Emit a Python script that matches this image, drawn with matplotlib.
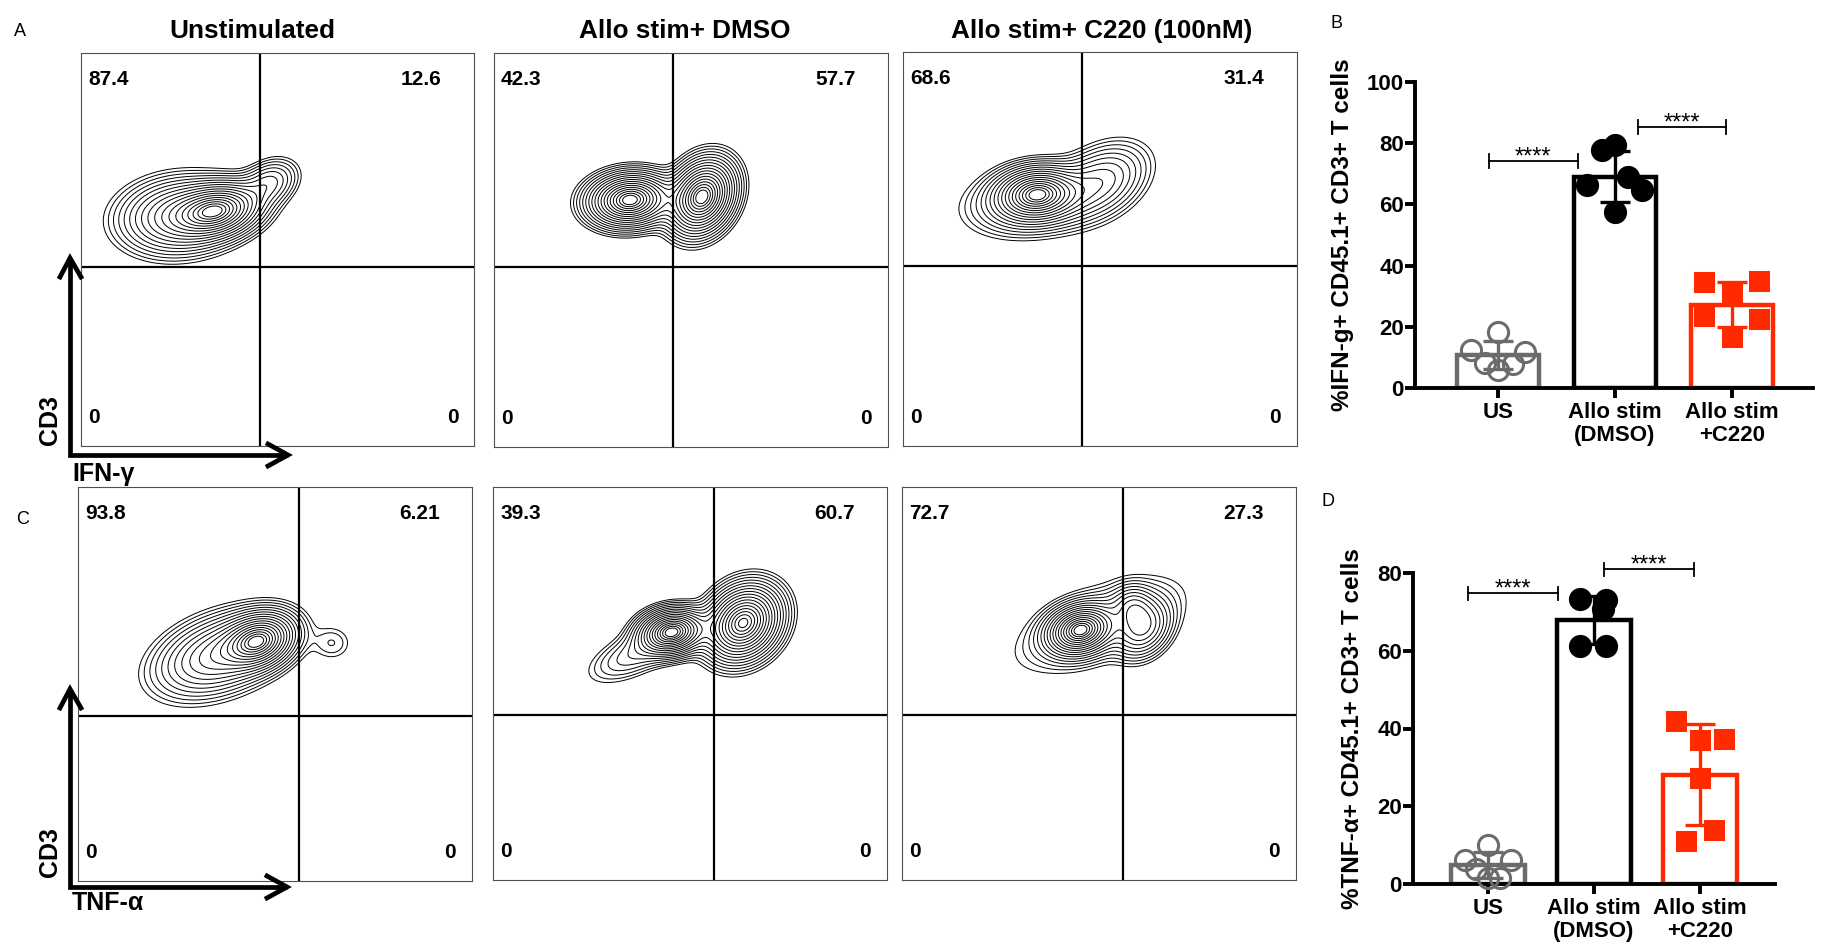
import numpy as np
import matplotlib
matplotlib.use('Agg')
import matplotlib.pyplot as plt

plt.rcParams['font.family'] = ['Liberation Sans', 'DejaVu Sans']

W, H = 1824, 952
fig = plt.figure(figsize=(W / 100, H / 100), dpi=100)
fig.patch.set_facecolor('white')

# ---------------- data ----------------
flow_titles = ['Unstimulated', 'Allo stim+ DMSO', 'Allo stim+ C220 (100nM)']
# quadrant percentages: upper-left, upper-right, lower-left, lower-right
ifn_quadrants = [[87.4, 12.6, 0, 0], [42.3, 57.7, 0, 0], [68.6, 31.4, 0, 0]]
tnf_quadrants = [[93.8, 6.21, 0, 0], [39.3, 60.7, 0, 0], [72.7, 27.3, 0, 0]]
ifn_gate = (0.455, 0.456)
tnf_gate = (0.560, 0.420)

# cell populations (axes fraction):
# (centre x, centre y, spread major, spread minor, angle deg, relative weight)
pop_ifn_us = [(0.35, 0.600, 0.060, 0.035, 12, 1.00),
              (0.25, 0.585, 0.080, 0.050, 6, 0.55),
              (0.48, 0.670, 0.042, 0.030, 28, 0.22)]
pop_ifn_dmso = [(0.345, 0.627, 0.055, 0.035, 5, 1.00),
                (0.528, 0.635, 0.052, 0.040, 60, 1.00)]
pop_ifn_c220 = [(0.34, 0.640, 0.055, 0.035, 5, 1.00),
                (0.33, 0.620, 0.090, 0.045, 8, 0.25),
                (0.50, 0.670, 0.070, 0.045, 30, 0.30)]
pop_tnf_us = [(0.46, 0.610, 0.050, 0.035, 20, 1.00),
              (0.36, 0.575, 0.090, 0.050, 20, 0.50),
              (0.645, 0.604, 0.032, 0.028, 0, 0.060)]
pop_tnf_dmso = [(0.454, 0.631, 0.045, 0.030, 10, 1.00),
                (0.635, 0.654, 0.055, 0.045, 45, 1.00),
                (0.36, 0.575, 0.070, 0.030, 25, 0.12)]
pop_tnf_c220 = [(0.452, 0.636, 0.045, 0.032, 15, 1.00),
                (0.612, 0.640, 0.045, 0.035, 50, 0.35),
                (0.586, 0.697, 0.030, 0.030, 0, 0.20),
                (0.50, 0.650, 0.120, 0.050, 22, 0.15)]

groups = ['US', 'Allo stim\n(DMSO)', 'Allo stim\n+C220']
ifn_us = [18.3, 12.5, 11.8, 8.2, 8.0, 5.8]
ifn_dmso = [77.7, 79.3, 69.0, 66.2, 64.6, 57.5]
ifn_c220 = [34.6, 34.9, 31.2, 23.4, 22.7, 16.7]
tnf_us = [10.0, 6.3, 6.3, 3.9, 1.6, 1.5]
tnf_dmso = [73.3, 73.0, 70.8, 61.1, 61.3]
tnf_c220 = [42.0, 37.0, 37.3, 27.3, 14.0, 11.1]

# horizontal scatter offsets of the dots (category units)
ifn_offsets = [[0, -0.23, 0.23, -0.11, 0.13, 0],
               [-0.11, 0, 0.11, -0.24, 0.23, 0],
               [-0.24, 0.23, 0, -0.24, 0.23, 0]]
tnf_offsets = [[0, -0.22, 0.22, -0.11, 0.11, 0],
               [-0.135, 0.116, 0.085, -0.135, 0.116],
               [-0.226, 0, 0.23, 0, 0.135, -0.13]]

ifn_brackets = [(-0.08, 0.68, 74.2), (1.20, 1.95, 85.3)]
tnf_brackets = [(-0.19, 0.66, 74.8), (1.09, 1.94, 81.0)]

group_colors = ['#6b6b6b', '#000000', '#ff2a00']
group_markers = ['o', 'o', 's']
group_filled = [False, True, True]


def px_axes(l, t, r, b, **kw):
    return fig.add_axes([l / W, 1 - b / H, (r - l) / W, (b - t) / H], **kw)


# ---------------- flow contour panels ----------------
grid = np.linspace(0, 1, 400)
GX, GY = np.meshgrid(grid, grid)


def density(pops):
    Z = np.zeros_like(GX)
    for cx, cy, sa, sb, ang, w in pops:
        t = np.deg2rad(ang)
        dx, dy = GX - cx, GY - cy
        u = dx * np.cos(t) + dy * np.sin(t)
        v = -dx * np.sin(t) + dy * np.cos(t)
        Z += w * np.exp(-0.5 * ((u / sa) ** 2 + (v / sb) ** 2))
    return Z


def flow_panel(box, pops, quads, gate):
    ax = px_axes(*box)
    Z = density(pops)
    r = np.linspace(0.35, 2.75, 18)
    levels = np.sort(Z.max() * np.exp(-r ** 2 / 2))
    ax.contour(GX, GY, Z, levels=levels, colors='#000000', linewidths=0.7)
    ax.axvline(gate[0], color='black', lw=1.6)
    ax.axhline(gate[1], color='black', lw=1.6)
    ax.set_xlim(0, 1)
    ax.set_ylim(0, 1)
    ax.set_xticks([])
    ax.set_yticks([])
    for s in ax.spines.values():
        s.set_linewidth(0.8)
        s.set_color('#505050')
    kw = dict(transform=ax.transAxes, fontsize=15, fontweight='bold', va='center')
    ax.text(0.018, 0.932, f'{quads[0]:g}', ha='left', **kw)
    ax.text(0.918, 0.932, f'{quads[1]:g}', ha='right', **kw)
    ax.text(0.018, 0.072, f'{quads[2]:g}', ha='left', **kw)
    ax.text(0.960, 0.072, f'{quads[3]:g}', ha='right', **kw)
    return ax


boxesA = [(81, 53, 474, 446), (494, 53, 888, 447), (903, 52, 1297, 446)]
boxesC = [(78, 487, 472, 881), (493, 487, 887, 880), (902, 487, 1296, 880)]
popsA = [pop_ifn_us, pop_ifn_dmso, pop_ifn_c220]
popsC = [pop_tnf_us, pop_tnf_dmso, pop_tnf_c220]
for i in range(3):
    flow_panel(boxesA[i], popsA[i], ifn_quadrants[i], ifn_gate)
    flow_panel(boxesC[i], popsC[i], tnf_quadrants[i], tnf_gate)


# ---------------- bar panels ----------------
def bar_panel(ax, series, offsets, ylim, yticks, brackets, ylabel, tick_h, label_x):
    for i, vals in enumerate(series):
        vals = np.asarray(vals, dtype=float)
        col = group_colors[i]
        m = vals.mean()
        sd = vals.std(ddof=1)
        ax.bar(i, m, width=0.70, facecolor='white', edgecolor=col,
               linewidth=3.2, zorder=1)
        ax.plot(i + np.asarray(offsets[i]), vals, ls='none',
                marker=group_markers[i], ms=14.5 if group_markers[i] == 'o' else 13.5,
                mfc=col if group_filled[i] else 'none', mec=col, mew=2.2,
                zorder=3, clip_on=False)
        ax.errorbar(i, m, yerr=sd, fmt='none', ecolor=col, elinewidth=2.4,
                    capsize=11, capthick=2.4, zorder=4)
    for x1, x2, y in brackets:
        ax.plot([x1, x2], [y, y], color='black', lw=1.3, clip_on=False)
        ax.plot([x1, x1], [y - tick_h, y + tick_h], color='black', lw=1.3, clip_on=False)
        ax.plot([x2, x2], [y - tick_h, y + tick_h], color='black', lw=1.3, clip_on=False)
        ax.annotate('****', xy=((x1 + x2) / 2, y), xytext=(0, -1.5),
                    textcoords='offset points', ha='center', va='baseline',
                    fontsize=17, annotation_clip=False)
    ax.set_ylim(*ylim)
    ax.set_yticks(yticks)
    ax.set_xticks(range(3))
    ax.set_xticklabels(groups, fontsize=16, fontweight='bold', linespacing=1.15)
    ax.tick_params(axis='y', labelsize=16, width=2.8, length=7, pad=1)
    ax.tick_params(axis='x', width=2.8, length=7, pad=3)
    for lab in ax.get_yticklabels():
        lab.set_fontweight('bold')
    for s in ['top', 'right']:
        ax.spines[s].set_visible(False)
    for s in ['left', 'bottom']:
        ax.spines[s].set_linewidth(2.8)
    ax.set_ylabel(ylabel, fontsize=17.5, fontweight='bold', va='center')
    ax.yaxis.set_label_coords(label_x, 0.5)


axB = px_axes(1415, 82, 1813, 388)
axB.set_xlim(-0.709, 2.692)
bar_panel(axB, [ifn_us, ifn_dmso, ifn_c220], ifn_offsets, (0, 100),
          [0, 20, 40, 60, 80, 100], ifn_brackets,
          '%IFN-g+ CD45.1+ CD3+ T cells', 2.2, -0.181)

axD = px_axes(1413, 573, 1775, 884)
axD.set_xlim(-0.708, 2.708)
bar_panel(axD, [tnf_us, tnf_dmso, tnf_c220], tnf_offsets, (0, 80),
          [0, 20, 40, 60, 80], tnf_brackets,
          '%TNF-α+ CD45.1+ CD3+ T cells', 1.7, -0.166)

# ---------------- overlay: titles, arrows, panel letters ----------------
ov = fig.add_axes([0, 0, 1, 1], zorder=10)
ov.set_xlim(0, W)
ov.set_ylim(H, 0)
ov.axis('off')
ov.patch.set_alpha(0)

title_x = [252, 685, 1102]
for t, x in zip(flow_titles, title_x):
    ov.text(x, 31, t, ha='center', va='center', fontsize=18.8, fontweight='bold')

for (tipy, cy, tipx) in [(258, 455, 288), (689, 887, 287)]:
    ov.plot([70, 70, tipx], [tipy + 2, cy, cy], color='black', lw=3.4,
            solid_joinstyle='miter', solid_capstyle='butt')
    ov.plot([60, 70, 81], [tipy + 19, tipy, tipy + 19], color='black', lw=3.4,
            solid_joinstyle='miter')
    ov.plot([tipx - 20, tipx, tipx - 20], [cy - 11, cy, cy + 11], color='black',
            lw=3.4, solid_joinstyle='miter')

ov.text(50, 420, 'CD3', rotation=90, ha='center', va='center', fontsize=18, fontweight='bold')
ov.text(50, 852, 'CD3', rotation=90, ha='center', va='center', fontsize=18, fontweight='bold')
ov.text(72, 474, 'IFN-γ', ha='left', va='center', fontsize=18, fontweight='bold')
ov.text(72, 903, 'TNF-α', ha='left', va='center', fontsize=18, fontweight='bold')

for letter, (x, y) in zip('ABCD', [(20, 31), (1337, 23), (23, 520), (1328, 502)]):
    ov.text(x, y, letter, ha='center', va='center', fontsize=13)

fig.savefig('out.png', dpi=100, facecolor='white')
